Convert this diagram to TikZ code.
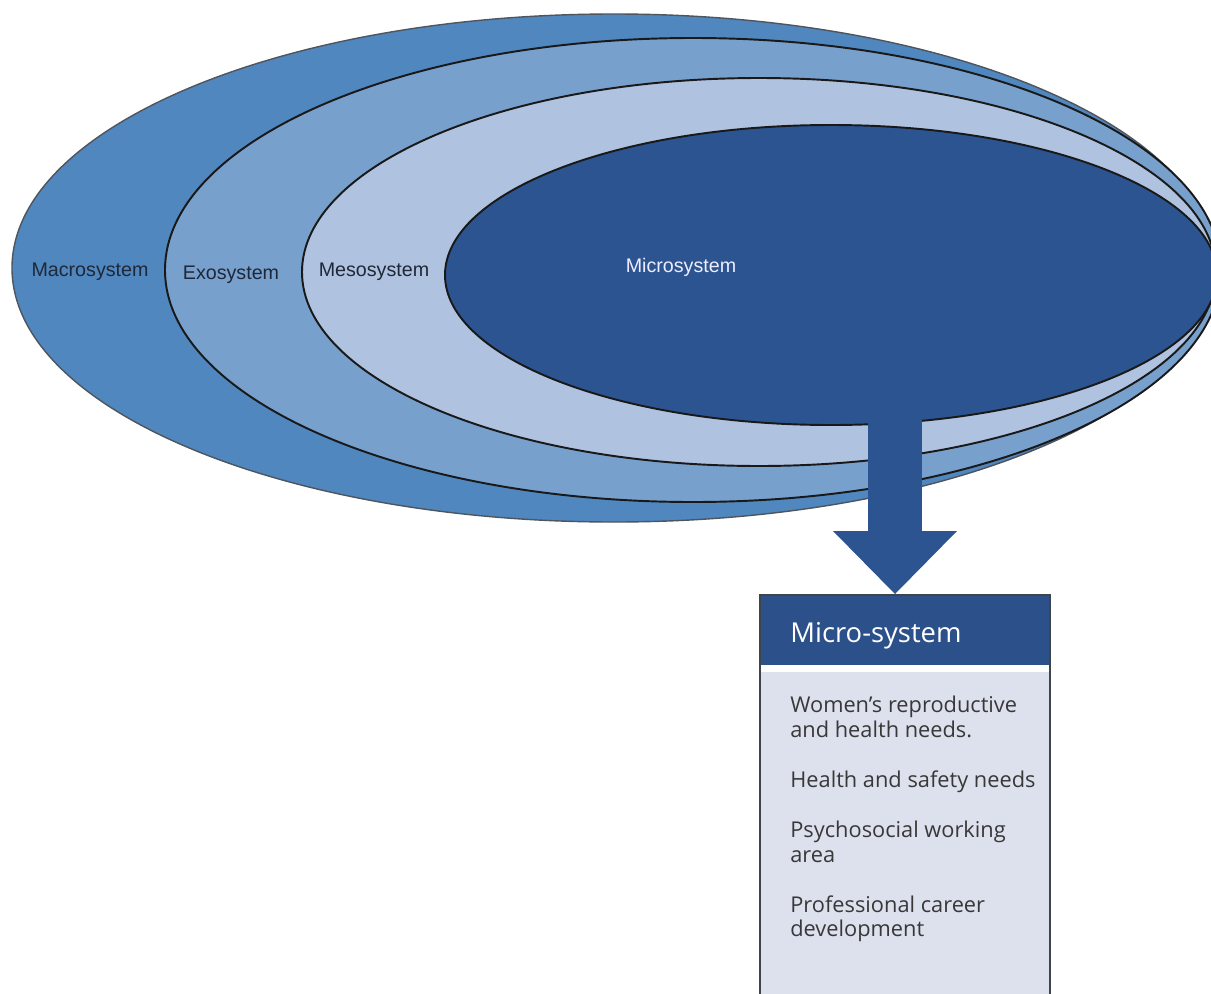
\documentclass[tikz,border=0pt]{standalone}
\usepackage{fontspec}
\setmainfont{Liberation Sans}
\newfontfamily\boxfont{Open Sans}
\usetikzlibrary{arrows.meta}

\definecolor{macroblue}{HTML}{5087BF}
\definecolor{exoblue}{HTML}{78A0CC}
\definecolor{mesoblue}{HTML}{AFC2DF}
\definecolor{microblue}{HTML}{2C5490}
\definecolor{headblue}{HTML}{2C5089}
\definecolor{bodymist}{HTML}{DDE1EE}
\definecolor{rimgray}{HTML}{4E555E}
\definecolor{labelink}{HTML}{1E2838}
\definecolor{itemink}{HTML}{383838}

\begin{document}
\begin{tikzpicture}[x=0.02cm, y=-0.02cm,
	ring/.style={draw=black!90, line width=1.1pt},
	sysname/.style={font=\fontsize{11.2}{13}\selectfont, text=labelink, inner sep=0pt, anchor=base},
	bigarrow/.style={microblue, line width=1.08cm, -{Triangle[width=2.48cm, length=1.26cm, line width=0pt]}},
	boxrim/.style={draw=rimgray!80!black, line width=1pt}]
		\useasboundingbox (0,0) rectangle (1211,994);
		\clip (0,0) rectangle (1211,994);
		\fill[white] (0,0) rectangle (1211,994);

		% nested systems
		\filldraw[fill=macroblue, draw=rimgray, line width=0.8pt] (614,268) ellipse [x radius=602, y radius=254];
		\filldraw[ring, fill=exoblue] (693,270) ellipse [x radius=528, y radius=232];
		\filldraw[ring, fill=mesoblue] (759,272) ellipse [x radius=457, y radius=194];
		\filldraw[ring, fill=microblue] (831,275) ellipse [x radius=386, y radius=150];

		\path (90,276) node[sysname] (macro) {Macrosystem}
		(231,279) node[sysname] (exo) {Exosystem}
		(374,276) node[sysname] (meso) {Mesosystem}
		(681,272) node[sysname, text=white!93!blue] (micro) {Microsystem};

		% detail box
		\draw[boxrim, fill=bodymist] (760,595) rectangle (1050,1010);
		\fill[headblue] (760,595) rectangle (1050,665);
		\fill[white] (760,665) rectangle (1050,672);
		\draw[boxrim] (760,1010) -- (760,595) -- (1050,595) -- (1050,1010);

		\coordinate (stem) at (895,405);
		\coordinate (boxtop) at (895,594);
		\draw[bigarrow] (stem) -- (boxtop);

		\path (790,642) node[anchor=base west, inner sep=0pt, text=white, font=\boxfont\fontsize{15.6}{18}\selectfont] (head) {Micro-system}
		(790,696) node[anchor=north west, inner sep=0pt, align=left, text=itemink, font=\boxfont\fontsize{12.4}{14}\selectfont] (needs)
		{Women’s reproductive\\and health needs.\\[14.5pt]Health and safety needs\\[14.5pt]Psychosocial working\\area\\[14.5pt]Professional career\\development};
	\end{tikzpicture}
\end{document}
